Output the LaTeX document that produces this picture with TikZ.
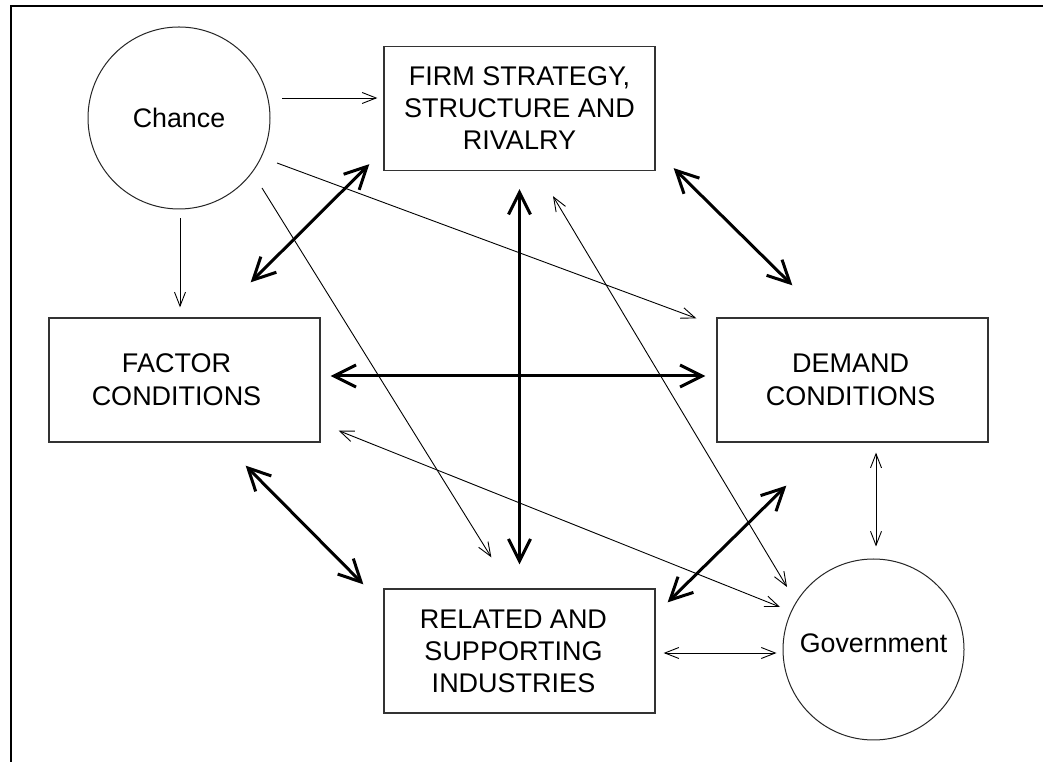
\documentclass[tikz,border=0pt]{standalone}
\usepackage{fontspec}
\setmainfont{Liberation Sans}
\usetikzlibrary{arrows.meta}
\begin{document}
\begin{tikzpicture}[x=1pt,y=1pt,
  boxnode/.style={draw=black!80,line width=1.3pt,minimum width=271pt,minimum height=124pt,
    inner sep=0pt,align=center,font=\fontsize{27}{32}\selectfont},
  ballnode/.style={draw=black!85,line width=1pt,circle,inner sep=0pt},
  balltext/.style={font=\fontsize{26.8}{30}\selectfont},
  thinlink/.style={line width=0.9pt,-{Straight Barb[length=14pt,width=11pt]}},
  thinboth/.style={line width=0.9pt,{Straight Barb[length=14pt,width=11pt]}-{Straight Barb[length=14pt,width=11pt]}},
  thicklink/.style={line width=3pt,{Straight Barb[length=22pt,width=22pt]}-{Straight Barb[length=22pt,width=22pt]}}
]
\useasboundingbox (0,0) rectangle (1043,762);
\fill[white] (0,0) rectangle (1043,762);

% outer frame (left and top edges)
\draw[line width=2pt] (11,0) -- (11,756) -- (1043,756);

% the six elements
\node[ballnode,minimum size=182pt] (chance) at (179,644) {};
\node[balltext] (chancetxt) at (chance.center) {Chance};
\node[boxnode] (firm) at (519.5,653.5) {FIRM STRATEGY,\\STRUCTURE AND\\RIVALRY};
\node[boxnode] (factor) at (184.5,382) {};
\node[font=\fontsize{27}{33}\selectfont,align=center] (factortxt) at ([xshift=-8pt]factor.center) {FACTOR\\CONDITIONS};
\node[boxnode] (demand) at (852.5,382) {};
\node[font=\fontsize{27}{33}\selectfont,align=center] (demandtxt) at ([xshift=-2pt]demand.center) {DEMAND\\CONDITIONS};
\node[boxnode] (related) at (519.5,111) {};
\node[font=\fontsize{27}{32}\selectfont,align=center] (relatedtxt) at ([xshift=-6pt]related.center) {RELATED AND\\SUPPORTING\\INDUSTRIES};
\node[ballnode,minimum size=181pt] (gov) at (873.5,112.5) {};
\node[balltext] (govtxt) at ([yshift=6.5pt]gov.center) {Government};

% influences of chance
\draw[thinlink] ([xshift=103pt,yshift=20pt]chance.center) -- ([xshift=-6pt,yshift=10.5pt]firm.west);
\draw[thinlink] ([xshift=1pt,yshift=-9pt]chance.south) -- ([xshift=-4.5pt,yshift=10pt]factor.north);
\draw[thinlink] ([xshift=98pt,yshift=-45pt]chance.center) -- ([xshift=-20pt,yshift=-1pt]demand.north west);
\draw[thinlink] ([xshift=83pt,yshift=-70pt]chance.center) -- ([xshift=108pt,yshift=31pt]related.north west);

% the diamond of mutual links
\draw[thicklink] ([yshift=-18pt]firm.south) -- ([yshift=24pt]related.north);
\draw[thicklink] ([xshift=10pt,yshift=4pt]factor.east) -- ([xshift=-11pt,yshift=4pt]demand.west);
\draw[thicklink] ([xshift=-14pt,yshift=7pt]firm.south west) -- ([xshift=-70pt,yshift=35pt]factor.north east);
\draw[thicklink] ([xshift=18pt,yshift=3pt]firm.south east) -- ([xshift=76pt,yshift=32pt]demand.north west);
\draw[thicklink] ([xshift=-75pt,yshift=-23pt]factor.south east) -- ([xshift=-20pt,yshift=4pt]related.north west);
\draw[thicklink] ([xshift=70pt,yshift=-43pt]demand.south west) -- ([xshift=12pt,yshift=-14pt]related.north east);

% links of government
\draw[thinboth] ([xshift=33.5pt,yshift=-25pt]firm.south) -- ([xshift=-86.5pt,yshift=62.5pt]gov.center);
\draw[thinboth] ([xshift=18pt,yshift=12pt]factor.south east) -- ([xshift=-93.5pt,yshift=42.5pt]gov.center);
\draw[thinboth] ([xshift=8pt,yshift=-2pt]related.east) -- ([xshift=-6pt,yshift=-3.5pt]gov.west);
\draw[thinboth] ([xshift=23.5pt,yshift=-10pt]demand.south) -- ([xshift=2.5pt,yshift=12pt]gov.north);
\end{tikzpicture}
\end{document}
